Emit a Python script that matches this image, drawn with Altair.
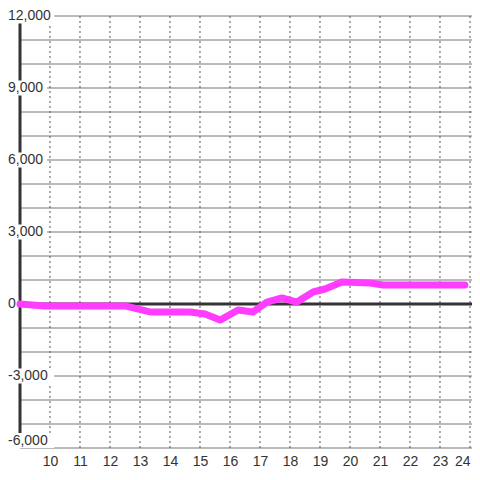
import altair as alt
import pandas as pd

# Line series (hour of day, value)
hours = [9.0, 9.83, 12.5, 13.33, 14.67, 15.17, 15.67, 16.27, 16.77, 17.23,
         17.73, 18.23, 18.77, 19.17, 19.73, 20.67, 21.1, 23.83]
values = [0, -80, -80, -330, -330, -420, -670, -250, -330, 80,
          250, 80, 500, 625, 920, 875, 790, 790]

# Axis values
y_label_values = [12000, 9000, 6000, 3000, 0, -3000, -6000]
y_grid_values = list(range(-6000, 12001, 1000))
x_tick_values = list(range(10, 25))

x_domain = [9, 24.0667]
y_domain = [-6000, 12000]

FONT = "Liberation Sans"

line_df = pd.DataFrame({"hour": hours, "value": values})
lab_df = pd.DataFrame({"value": y_label_values,
                       "label": [f"{v:,}" for v in y_label_values]})
ygrid_df = pd.DataFrame({"value": y_grid_values})
xgrid_df = pd.DataFrame({"hour": x_tick_values})

xs = alt.Scale(domain=x_domain, nice=False, zero=False)
ys = alt.Scale(domain=y_domain, nice=False, zero=False)

hgrid = alt.Chart(ygrid_df).mark_rule(color="#777", strokeWidth=1).encode(
    y=alt.Y("value:Q", scale=ys)
)
vgrid = alt.Chart(xgrid_df).mark_rule(
    color="#555", strokeWidth=1, strokeDash=[2, 3]
).encode(x=alt.X("hour:Q", scale=xs))

zero = alt.Chart(pd.DataFrame({"value": [0]})).mark_rule(
    color="#333", strokeWidth=3
).encode(y=alt.Y("value:Q", scale=ys))

yline = alt.Chart(pd.DataFrame({"hour": [9]})).mark_rule(
    color="#333", strokeWidth=3
).encode(x=alt.X("hour:Q", scale=xs))

# white label backgrounds (pixel units converted through the x scale: 30 px per hour)
bg = alt.Chart(lab_df).transform_calculate(
    x0="9 + (-12) / 30",
    x1="9 + (-12 + length(datum.label) * 7.2 + 3) / 30",
    y0="datum.value == -6000 ? -6000 : datum.value - 312",
    y1="datum.value == -6000 ? -5375 : datum.value + 312",
).mark_rect(color="white").encode(
    x=alt.X("x0:Q", scale=xs),
    x2="x1:Q",
    y=alt.Y("y0:Q", scale=ys),
    y2="y1:Q",
)

txt = alt.Chart(lab_df).transform_calculate(
    ypos="datum.value == -6000 ? -5700 : datum.value"
).mark_text(
    align="left", baseline="middle", font=FONT, fontSize=14, color="#333"
).encode(
    x=alt.value(-12),
    y=alt.Y("ypos:Q", scale=ys),
    text="label:N",
)

line = alt.Chart(line_df).mark_line(
    color="#ff3cff", strokeWidth=7, strokeCap="round", strokeJoin="round"
).encode(
    x=alt.X("hour:Q", scale=xs),
    y=alt.Y("value:Q", scale=ys),
)

chart = alt.layer(hgrid, vgrid, zero, yline, bg, txt, line).encode(
    x=alt.X(axis=alt.Axis(
        values=x_tick_values, grid=False, domain=False, ticks=False,
        labelFont=FONT, labelFontSize=14, labelColor="#333", labelPadding=6,
        labelFlush=8, title=None)),
    y=alt.Y(axis=None),
).properties(
    width=452, height=432,
    padding={"left": 12, "top": 8, "right": 0, "bottom": 22},
    autosize=alt.AutoSizeParams(type="none"),
).configure_view(stroke=None)

chart.save("out.html", embed_options={"renderer": "svg", "actions": False})
